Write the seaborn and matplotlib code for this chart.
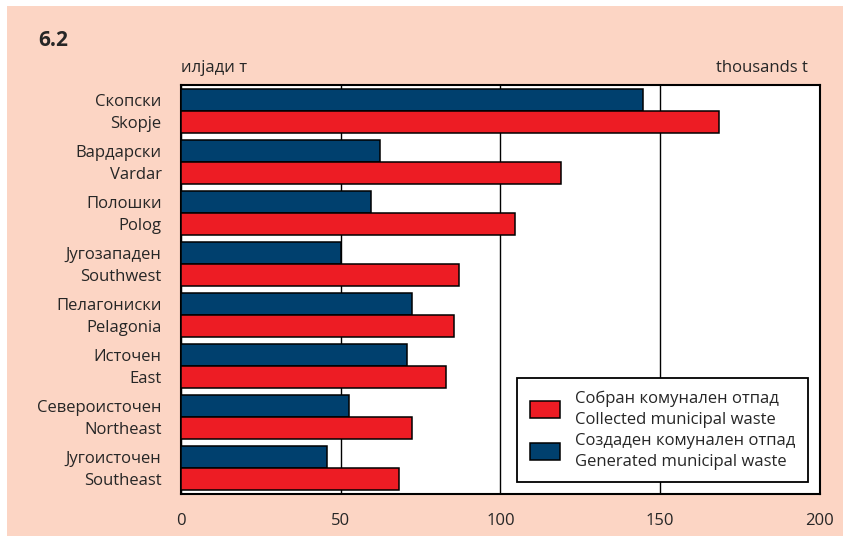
import matplotlib
matplotlib.use("Agg")
import matplotlib.pyplot as plt
import matplotlib.patches as mpatches
import pandas as pd
import seaborn as sns

# regions, Macedonian + English
REGIONI_MK = ["Скопски", "Вардарски", "Полошки", "Југозападен",
              "Пелагониски", "Источен", "Североисточен", "Југоисточен"]
REGIONI_EN = ["Skopje", "Vardar", "Polog", "Southwest",
              "Pelagonia", "East", "Northeast", "Southeast"]

# thousands of tonnes
SOZDADEN = [144.6, 62.3, 59.5, 50.1, 72.3, 70.7, 52.6, 45.7]
SOBRAN = [168.4, 118.9, 104.5, 87.0, 85.4, 82.9, 72.3, 68.2]

SERIJA_SOZ = "Создаден комунален отпад\nGenerated municipal waste"
SERIJA_SOB = "Собран комунален отпад\nCollected municipal waste"

SINA = "#00406e"
CRVENA = "#ed1c24"
PRASKA = "#fcd5c4"

sns.set_style("white")
plt.rcParams["font.family"] = ["Open Sans", "DejaVu Sans"]
plt.rcParams["font.size"] = 11.5

df = pd.DataFrame({
    "regija": REGIONI_EN * 2,
    "vrednost": SOZDADEN + SOBRAN,
    "serija": [SERIJA_SOZ] * 8 + [SERIJA_SOB] * 8,
})

fig = plt.figure(figsize=(8.5, 5.43), dpi=100, facecolor="white")
fig.patches.append(mpatches.Rectangle((7 / 850, 7 / 543), 836 / 850, 530 / 543,
                                      transform=fig.transFigure, facecolor=PRASKA,
                                      edgecolor="none", zorder=-10))
ax = fig.add_axes([181 / 850, 1 - 494 / 543, 639 / 850, 409 / 543])
ax.set_facecolor("white")

sns.barplot(df, x="vrednost", y="regija", hue="serija", orient="h",
            order=REGIONI_EN, hue_order=[SERIJA_SOZ, SERIJA_SOB],
            palette=[SINA, CRVENA], width=0.86, edgecolor="black",
            linewidth=1.1, saturation=1, ax=ax, zorder=3, legend=False)

ax.set_xlim(0, 200)
ax.set_ylim(7.5, -0.5)
ax.set_xticks([0, 50, 100, 150, 200])
ax.tick_params(axis="x", length=0, pad=14, labelsize=12)
ax.xaxis.grid(True, color="black", linewidth=1)
ax.set_axisbelow(True)

poz, etiketi = [], []
for i, (mk, en) in enumerate(zip(REGIONI_MK, REGIONI_EN)):
    poz += [i - 0.215, i + 0.215]
    etiketi += [mk, en]
ax.set_yticks(poz)
ax.set_yticklabels(etiketi)
ax.tick_params(axis="y", length=0, pad=14, labelsize=12)
ax.set_xlabel("")
ax.set_ylabel("")
for s in ax.spines.values():
    s.set_visible(True)
    s.set_color("black")
    s.set_linewidth(1.5)

rachki = [mpatches.Patch(facecolor=CRVENA, edgecolor="black", linewidth=1.1, label=SERIJA_SOB),
          mpatches.Patch(facecolor=SINA, edgecolor="black", linewidth=1.1, label=SERIJA_SOZ)]
leg = ax.legend(handles=rachki, loc="lower right", bbox_to_anchor=(0.981, 0.029),
                fancybox=False, framealpha=1, edgecolor="black", fontsize=12,
                handlelength=1.8, handleheight=1.2, handletextpad=0.9,
                labelspacing=0.3, borderpad=0.75, borderaxespad=0)
for t in leg.get_texts():
    t.set_linespacing(1.4)
leg.get_frame().set_linewidth(1.3)
leg.set_zorder(5)

fig.text(38 / 850, 1 - 40 / 543, "6.2", fontsize=15, fontweight="bold", va="center")
fig.text(181 / 850, 1 - 68 / 543, "илјади т", fontsize=12, va="center")
fig.text(808 / 850, 1 - 68 / 543, "thousands t", fontsize=12, va="center", ha="right")

fig.savefig("out.png", dpi=100, facecolor="white")
